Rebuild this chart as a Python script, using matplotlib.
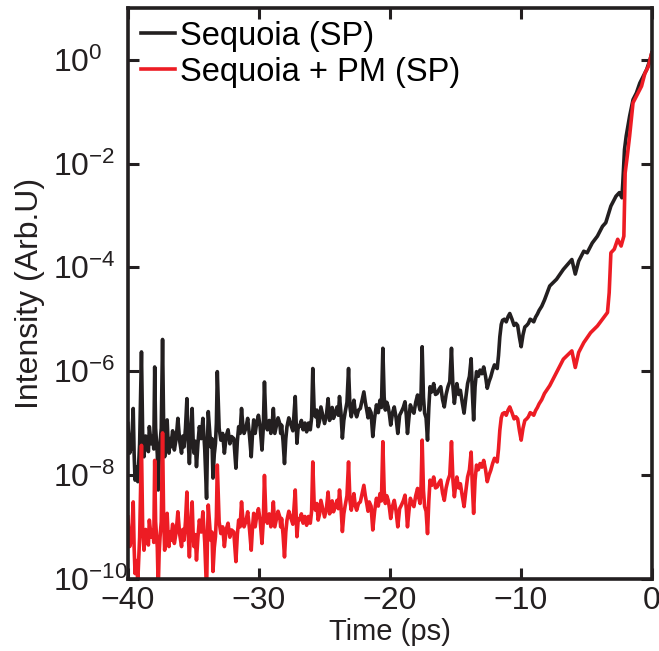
import matplotlib
matplotlib.use("Agg")
import matplotlib.pyplot as plt
import numpy as np

plt.rcParams['font.family'] = ['Liberation Sans', 'DejaVu Sans']
plt.rcParams['mathtext.fontset'] = 'custom'
plt.rcParams['mathtext.rm'] = 'Liberation Sans'
plt.rcParams['mathtext.it'] = 'Liberation Sans:italic'

# time axis (ps) and log10 of intensity
t_sp = [-40.00, -39.86, -39.59, -39.45, -39.24, -38.96, -38.77, -38.50, -38.36, -38.09,
        -37.95, -37.82, -37.68, -37.54, -37.35, -37.19, -37.00, -36.86, -36.72, -36.45,
        -36.18, -35.90, -35.71, -35.49, -35.30, -35.09, -34.95, -34.76, -34.54, -34.27,
        -33.99, -33.86, -33.67, -33.50, -33.31, -33.17, -32.90, -32.63, -32.35, -32.08,
        -31.75, -31.54, -31.32, -31.13, -30.85, -30.58, -30.39, -30.17, -29.90, -29.76,
        -29.57, -29.35, -29.08, -28.89, -28.67, -28.40, -28.26, -28.04, -27.85, -27.58,
        -27.22, -27.09, -26.89, -26.62, -26.35, -26.07, -25.88, -25.67, -25.47, -25.26,
        -24.98, -24.71, -24.49, -24.30, -24.03, -23.84, -23.62, -23.40, -23.15, -22.94,
        -22.74, -22.53, -22.25, -21.98, -21.76, -21.57, -21.30, -21.02, -20.75, -20.53,
        -20.34, -20.12, -19.93, -19.66, -19.39, -19.11, -18.84, -18.65, -18.43, -18.16,
        -17.88, -17.69, -17.53, -17.34, -17.12, -16.93, -16.65, -16.38, -16.11, -15.84,
        -15.56, -15.29, -15.07, -14.88, -14.61, -14.33, -14.06, -13.79, -13.60, -13.38,
        -13.11, -12.83, -12.56, -12.29, -12.01, -11.80, -11.60, -11.39, -11.11, -10.84,
        -10.51, -10.24, -9.97, -9.69, -9.42, -9.15, -8.87, -8.60, -8.19]

log_sp = [-7.01, -7.58, -6.72, -8.10, -8.13, -5.63, -7.65, -7.46, -7.07, -7.26,
          -5.92, -7.33, -8.29, -7.39, -5.39, -7.65, -6.94, -7.58, -7.46, -7.52,
          -6.91, -7.58, -7.46, -6.53, -7.78, -6.72, -7.58, -7.84, -7.07, -6.91,
          -8.45, -6.78, -7.46, -8.06, -7.39, -6.01, -7.33, -7.58, -7.13, -7.26,
          -7.87, -7.07, -6.72, -7.20, -6.91, -7.65, -6.94, -7.01, -7.07, -7.52,
          -6.21, -7.13, -7.20, -6.72, -7.07, -7.01, -7.04, -7.78, -7.07, -7.01,
          -6.49, -7.39, -7.07, -7.13, -7.17, -7.13, -5.95, -6.88, -7.07, -6.69,
          -7.01, -6.53, -6.88, -6.91, -6.69, -6.49, -7.29, -6.78, -5.95, -6.88,
          -6.56, -6.88, -6.72, -6.40, -6.75, -6.72, -7.26, -6.65, -6.56, -5.56,
          -6.75, -6.69, -7.04, -6.69, -7.20, -6.78, -6.59, -7.20, -6.65, -6.81,
          -6.46, -6.75, -5.53, -6.81, -7.33, -6.30, -6.24, -6.43, -6.30, -6.69,
          -6.30, -5.56, -6.62, -6.24, -6.37, -6.81, -6.24, -5.76, -6.94, -6.01,
          -5.98, -5.92, -6.33, -6.11, -5.88, -5.95, -5.34, -5.02, -5.05, -4.89,
          -5.12, -5.12, -5.53, -5.15, -5.08, -5.02, -4.96, -4.83, -4.63]

log_pm = [-8.81, -9.38, -8.52, -9.90, -10.05, -7.43, -9.45, -9.26, -8.87, -9.06,
          -7.72, -9.13, -10.20, -9.19, -7.19, -9.45, -8.74, -9.38, -9.26, -9.32,
          -8.71, -9.38, -9.26, -8.33, -9.58, -8.52, -9.38, -9.64, -8.87, -8.71,
          -10.25, -8.58, -9.26, -9.86, -9.19, -7.81, -9.13, -9.38, -8.93, -9.06,
          -9.67, -8.87, -8.52, -9.00, -8.71, -9.45, -8.74, -8.81, -8.87, -9.32,
          -8.01, -8.93, -9.00, -8.52, -8.87, -8.81, -8.84, -9.58, -8.87, -8.81,
          -8.29, -9.19, -8.87, -8.93, -8.97, -8.93, -7.75, -8.68, -8.87, -8.49,
          -8.81, -8.33, -8.68, -8.71, -8.49, -8.29, -9.09, -8.58, -7.75, -8.68,
          -8.36, -8.68, -8.52, -8.20, -8.55, -8.52, -9.06, -8.45, -8.36, -7.36,
          -8.55, -8.49, -8.84, -8.49, -9.00, -8.58, -8.39, -9.00, -8.45, -8.61,
          -8.26, -8.55, -7.33, -8.61, -9.13, -8.10, -8.04, -8.23, -8.10, -8.49,
          -8.10, -7.36, -8.42, -8.04, -8.17, -8.61, -8.04, -7.56, -8.74, -7.81,
          -7.78, -7.72, -8.13, -7.91, -7.68, -7.75, -7.14, -6.82, -6.85, -6.69,
          -6.92, -6.92, -7.33, -6.95, -6.88, -6.82, -6.76, -6.63, -6.43]

# smaller wiggles between the readings above
t_mid = [-39.93, -39.72, -39.52, -39.35, -39.10, -38.87, -38.64, -38.43, -38.22, -38.02,
         -37.88, -37.75, -37.61, -37.45, -37.27, -37.10, -36.93, -36.79, -36.58, -36.31,
         -36.04, -35.80, -35.60, -35.40, -35.20, -35.02, -34.85, -34.65, -34.40, -34.13,
         -33.92, -33.76, -33.58, -33.40, -33.24, -33.03, -32.76, -32.49, -32.21, -31.91,
         -31.64, -31.43, -31.22, -30.99, -30.71, -30.48, -30.28, -30.03, -29.83, -29.66,
         -29.46, -29.21, -28.98, -28.78, -28.53, -28.33, -28.15, -27.94, -27.71, -27.40,
         -27.15, -26.99, -26.75, -26.48, -26.21, -25.97, -25.77, -25.57, -25.36, -25.12,
         -24.84, -24.60, -24.40, -24.16, -23.93, -23.73, -23.51, -23.27, -23.04, -22.84,
         -22.63, -22.39, -22.11, -21.87, -21.66, -21.43, -21.16, -20.88, -20.64, -20.43,
         -20.23, -20.02, -19.79, -19.52, -19.25, -18.97, -18.74, -18.54, -18.29, -18.02,
         -17.78, -17.61, -17.43, -17.23, -17.02, -16.79, -16.51, -16.24, -15.97, -15.70,
         -15.42, -15.18, -14.97, -14.74, -14.47, -14.19, -13.92, -13.70, -13.49, -13.24,
         -12.97, -12.69, -12.42, -12.15, -11.90, -11.70, -11.49, -11.25, -10.97, -10.67,
         -10.37, -10.10, -9.83, -9.55, -9.28, -9.01, -8.73, -8.40]

log_sp_mid = [-7.30, -7.45, -7.60, -7.85, -7.40, -7.20, -7.25, -7.55, -7.40, -7.50,
              -7.10, -7.60, -7.70, -7.10, -7.00, -7.25, -7.35, -7.30, -7.15, -7.30,
              -7.35, -7.25, -7.10, -7.30, -7.20, -7.30, -7.35, -7.40, -7.30, -7.50,
              -7.40, -7.15, -7.30, -7.60, -7.00, -7.10, -7.20, -7.25, -7.40, -7.30,
              -7.35, -7.20, -7.05, -7.10, -7.25, -7.20, -7.20, -6.85, -7.30, -7.10,
              -7.00, -6.95, -7.00, -7.20, -6.90, -7.20, -7.35, -7.30, -6.90, -7.15,
              -7.00, -7.05, -6.95, -7.00, -7.00, -6.90, -6.80, -6.75, -6.95, -6.85,
              -6.85, -6.95, -6.70, -6.80, -6.85, -6.80, -6.95, -6.60, -6.70, -6.70,
              -6.80, -6.75, -6.55, -6.60, -6.90, -6.80, -6.90, -6.80, -6.70, -6.50,
              -6.60, -6.85, -6.80, -6.90, -6.85, -6.70, -6.85, -6.90, -6.75, -6.60,
              -6.65, -6.40, -6.50, -6.90, -6.70, -6.40, -6.45, -6.35, -6.55, -6.45,
              -6.20, -6.30, -6.40, -6.45, -6.60, -6.50, -6.10, -6.40, -6.30, -6.10,
              -6.05, -6.10, -6.20, -5.98, -5.92, -5.70, -5.10, -5.00, -4.95, -5.00,
              -5.08, -5.35, -5.30, -5.12, -5.00, -5.05, -4.90, -4.75]

log_pm_mid = [-9.10, -9.25, -9.40, -9.65, -9.20, -9.00, -9.05, -9.35, -9.20, -9.30,
              -8.90, -9.40, -9.50, -8.90, -8.80, -9.05, -9.15, -9.10, -8.95, -9.10,
              -9.15, -9.05, -8.90, -9.10, -9.00, -9.10, -9.15, -9.20, -9.10, -9.30,
              -9.20, -8.95, -9.10, -9.40, -8.80, -8.90, -9.00, -9.05, -9.20, -9.10,
              -9.15, -9.00, -8.85, -8.90, -9.05, -9.00, -9.00, -8.65, -9.10, -8.90,
              -8.80, -8.75, -8.80, -9.00, -8.70, -9.00, -9.15, -9.10, -8.70, -8.95,
              -8.80, -8.85, -8.75, -8.80, -8.80, -8.70, -8.60, -8.55, -8.75, -8.65,
              -8.65, -8.75, -8.50, -8.60, -8.65, -8.60, -8.75, -8.40, -8.50, -8.50,
              -8.60, -8.55, -8.35, -8.40, -8.70, -8.60, -8.70, -8.60, -8.50, -8.30,
              -8.40, -8.65, -8.60, -8.70, -8.65, -8.50, -8.65, -8.70, -8.55, -8.40,
              -8.45, -8.20, -8.30, -8.70, -8.50, -8.20, -8.25, -8.15, -8.35, -8.25,
              -8.00, -8.10, -8.20, -8.25, -8.40, -8.30, -7.90, -8.20, -8.10, -7.90,
              -7.85, -7.90, -8.00, -7.78, -7.72, -7.50, -6.90, -6.80, -6.75, -6.80,
              -6.88, -7.15, -7.10, -6.92, -6.80, -6.85, -6.70, -6.55]

# last few ps, read at a finer scale
t_sp_end = [-7.79, -7.27, -6.75, -6.10, -5.84, -5.58, -5.19, -4.93, -4.54, -4.15,
            -3.76, -3.51, -3.12, -2.73, -2.47, -2.28, -2.21, -2.08, -1.95, -1.69,
            -1.43, -1.17, -0.91, -0.65, -0.39, -0.13, 0.00]
log_sp_end = [-4.36, -4.23, -4.04, -3.85, -4.13, -3.88, -3.69, -3.72, -3.53, -3.40,
              -3.21, -3.14, -2.82, -2.63, -2.56, -2.66, -2.37, -1.73, -1.47, -1.09,
              -0.77, -0.64, -0.45, -0.32, -0.19, 0.00, 0.13]

t_pm_end = [-7.79, -7.40, -6.75, -6.10, -5.84, -5.58, -5.19, -4.67, -4.15, -3.76,
            -3.38, -3.25, -3.12, -2.86, -2.60, -2.34, -2.13, -2.03, -1.87, -1.69,
            -1.43, -1.04, -0.78, -0.52, -0.26, 0.00]
log_pm_end = [-6.28, -6.09, -5.77, -5.61, -5.93, -5.64, -5.45, -5.26, -5.13, -5.00,
              -4.87, -4.49, -3.72, -3.65, -3.46, -3.59, -3.40, -2.18, -1.86, -1.47,
              -0.83, -0.64, -0.51, -0.26, -0.13, 0.13]


def merge(t_a, y_a, t_b, y_b, t_c, y_c):
    t = np.array(t_a + t_b + t_c)
    y = np.array(y_a + y_b + y_c)
    order = np.argsort(t, kind='stable')
    return t[order], 10.0 ** y[order]


black = '#231f20'
red = '#ed1c24'

fig = plt.figure(figsize=(6.59, 6.51), dpi=100)
ax = fig.add_axes([0.194, 0.111, 0.795, 0.877])

x1, y1 = merge(t_sp, log_sp, t_mid, log_sp_mid, t_sp_end, log_sp_end)
x2, y2 = merge(t_sp, log_pm, t_mid, log_pm_mid, t_pm_end, log_pm_end)
ax.plot(x1, y1, color=black, lw=2.6, label='Sequoia (SP)')
ax.plot(x2, y2, color=red, lw=2.6, label='Sequoia + PM (SP)')

ax.set_yscale('log')
ax.set_xlim(-40, 0)
ax.set_ylim(1e-10, 1e1)
ax.set_xticks([-40, -30, -20, -10, 0])
ax.set_xticklabels(['\u221240', '\u221230', '\u221220', '\u221210', '0'])
ax.set_yticks([1e-10, 1e-8, 1e-6, 1e-4, 1e-2, 1e0])
ax.yaxis.set_minor_locator(matplotlib.ticker.NullLocator())
ax.tick_params(direction='in', length=8, width=2.2, top=True, right=True,
               labelsize=23, colors=black, pad=5)
# y tick labels are left aligned, as in the original
ax.tick_params(axis='y', pad=54)
for lab in ax.get_yticklabels():
    lab.set_horizontalalignment('left')
for s in ax.spines.values():
    s.set_linewidth(2.6)
    s.set_color(black)

ax.set_xlabel('Time (ps)', fontsize=21, color=black, labelpad=2)
ax.set_ylabel('Intensity (Arb.U)', fontsize=23, color=black)
ax.yaxis.set_label_coords(-0.158, 0.5)

ax.legend(loc='upper left', frameon=False, fontsize=23.5, handlelength=1.05,
          handletextpad=0.15, borderaxespad=0.2, labelspacing=0.15,
          borderpad=0.2)

fig.savefig('out.png', dpi=100)
